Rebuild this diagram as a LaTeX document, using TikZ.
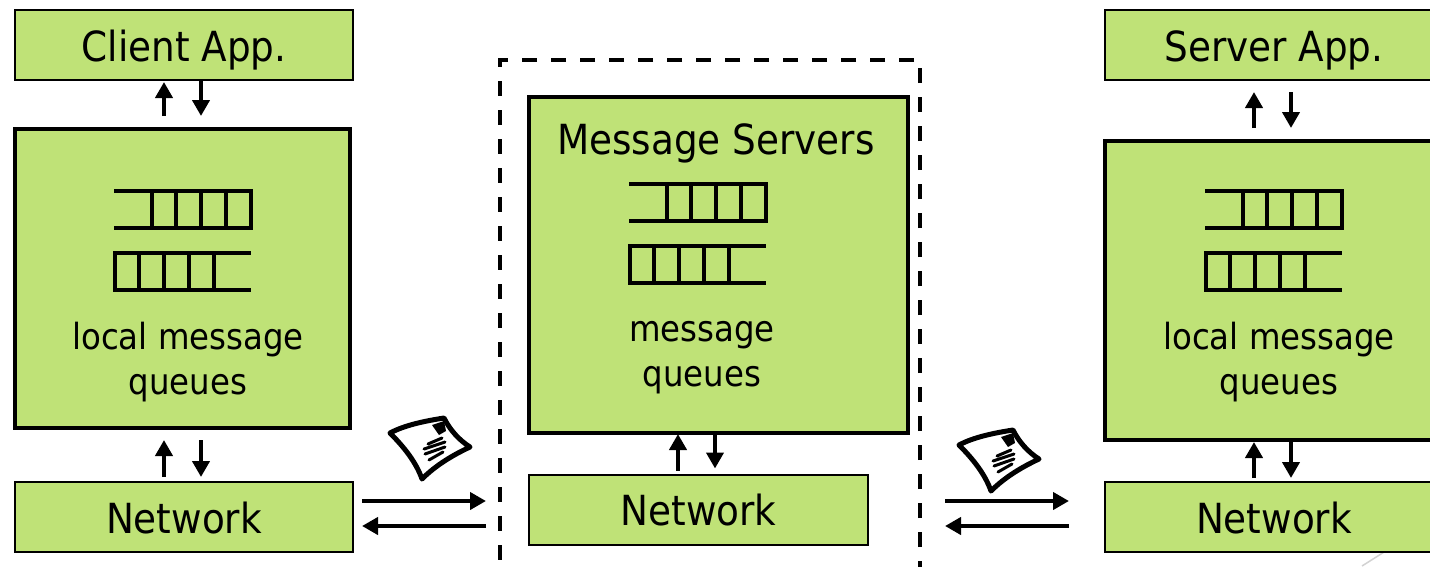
\documentclass[tikz,border=0pt]{standalone}
\usepackage{fontspec}
\setmainfont{DejaVu Sans}[FakeStretch=0.9]
\usetikzlibrary{arrows.meta,calc}
\definecolor{boxgreen}{HTML}{BFE277}
\newcommand{\lowered}[1]{\raisebox{-16pt}[0pt][0pt]{#1}}
\tikzset{
  x=1pt,y=-1pt,
  every node/.style={outer sep=0pt},
  thinbox/.style={draw=black,fill=boxgreen,line width=2pt,minimum height=70pt,inner sep=0pt,font=\fontsize{41.5}{48}\selectfont},
  thickbox/.style={draw=black,fill=boxgreen,line width=4pt,inner sep=0pt},
  lbl/.style={align=center,inner sep=0pt,font=\fontsize{36}{45}\selectfont},
  titlelbl/.style={align=center,inner sep=0pt,font=\fontsize{41.5}{45}\selectfont},
  arr/.style={line width=4.4pt,-{Triangle[length=16pt,width=17pt]}},
  qline/.style={line width=4pt,line cap=butt},
  queue/.pic={
    \draw[qline] (0,0)--(138,0) (0,37)--(138,37) (137,-2)--(137,39)
      (38,-2)--(38,39) (62,-2)--(62,39) (87,-2)--(87,39) (112,-2)--(112,39);
    \draw[qline] (-1,62)--(137,62) (-1,99)--(137,99) (1,60)--(1,101)
      (25,60)--(25,101) (50,60)--(50,101) (75,60)--(75,101) (100,60)--(100,101);
  },
  mail/.pic={
    \draw[line width=5pt,line join=round,fill=white] (390,433)
      .. controls (405,425) and (425,421) .. (444,418)
      .. controls (450,430) and (459,440) .. (470,447)
      .. controls (453,455) and (436,465) .. (422,479)
      .. controls (416,462) and (404,447) .. (390,433) -- cycle;
    \fill (432,425)--(444,421)--(446,431)--(439,435)--cycle;
    \draw[line width=3pt,line cap=round] (428,444)--(442,438) (424,449)--(445,442)
      (425,454)--(445,447) (429,460)--(443,452);
  }
}
\begin{document}
\begin{tikzpicture}
\useasboundingbox (0,0) rectangle (1430,566);
\clip (0,0) rectangle (1430,566);
\draw[gray!35,line width=1.5pt] (1362,566)--(1392,547);
% broker frame
\node[draw=black,line width=4.4pt,dash pattern=on 15pt off 14pt,minimum width=420pt,minimum height=560pt,inner sep=0pt,anchor=north west] (broker) at (500,60) {};
% client
\node[thinbox,minimum width=338pt] (capp) at (184,45) {\lowered{Client App.}};
\node[thickbox,minimum width=335pt,minimum height=299pt] (cq) at (182.5,278.5) {};
\node[thinbox,minimum width=338pt] (cnet) at (184,517) {\lowered{Network}};
\pic at (114,191) {queue};
\node[lbl] (clbl) at (188,362) {local message\\queues};
% middle
\node[thickbox,minimum width=379pt,minimum height=336pt] (mq) at (718.5,265) {};
\node[thinbox,minimum width=339pt] (mnet) at (698.5,509.5) {\lowered{Network}};
\node[titlelbl] (mtitle) at (716,143) {Message Servers};
\pic at (629,184) {queue};
\node[lbl] (mlbl) at (702,358) {message\\queues};
% server
\node[thinbox,minimum width=338pt] (sapp) at (1274,45) {\lowered{Server App.}};
\node[thickbox,minimum width=335pt,minimum height=299pt] (sq) at (1272.5,290.5) {};
\node[thinbox,minimum width=338pt] (snet) at (1274,517) {\lowered{Network}};
\pic at (1205,191) {queue};
\node[lbl] (slbl) at (1279,362) {local message\\queues};
% vertical arrows
\draw[arr,shorten <=13pt,shorten >=2pt] (164,0 |- cq.north) -- (164,0 |- capp.south);
\draw[arr,shorten <=0pt,shorten >=13pt] (201,0 |- capp.south) -- (201,0 |- cq.north);
\draw[arr,shorten <=5pt,shorten >=12pt] (164,0 |- cnet.north) -- (164,0 |- cq.south);
\draw[arr,shorten <=12pt,shorten >=5pt] (201,0 |- cq.south) -- (201,0 |- cnet.north);
\draw[arr,shorten <=4pt,shorten >=1pt] (678,0 |- mnet.north) -- (678,0 |- mq.south);
\draw[arr,shorten <=1pt,shorten >=6pt] (715,0 |- mq.south) -- (715,0 |- mnet.north);
\draw[arr,shorten <=13pt,shorten >=12pt] (1254,0 |- sq.north) -- (1254,0 |- sapp.south);
\draw[arr,shorten <=12pt,shorten >=13pt] (1291,0 |- sapp.south) -- (1291,0 |- sq.north);
\draw[arr,shorten <=4pt,shorten >=2pt] (1254,0 |- snet.north) -- (1254,0 |- sq.south);
\draw[arr,shorten <=2pt,shorten >=4pt] (1291,0 |- sq.south) -- (1291,0 |- snet.north);
% horizontal arrows
\draw[arr,shorten <=9pt,shorten >=14pt] (cnet.east |- 0,501) -- (broker.west |- 0,501);
\draw[arr,shorten <=14pt,shorten >=9pt] (broker.west |- 0,526) -- (cnet.east |- 0,526);
\draw[arr,shorten <=25pt,shorten >=36pt] (broker.east |- 0,501) -- (snet.west |- 0,501);
\draw[arr,shorten <=36pt,shorten >=25pt] (snet.west |- 0,526) -- (broker.east |- 0,526);
% envelopes
\pic at (0,0) {mail};
\pic at (569,12) {mail};
\end{tikzpicture}
\end{document}
